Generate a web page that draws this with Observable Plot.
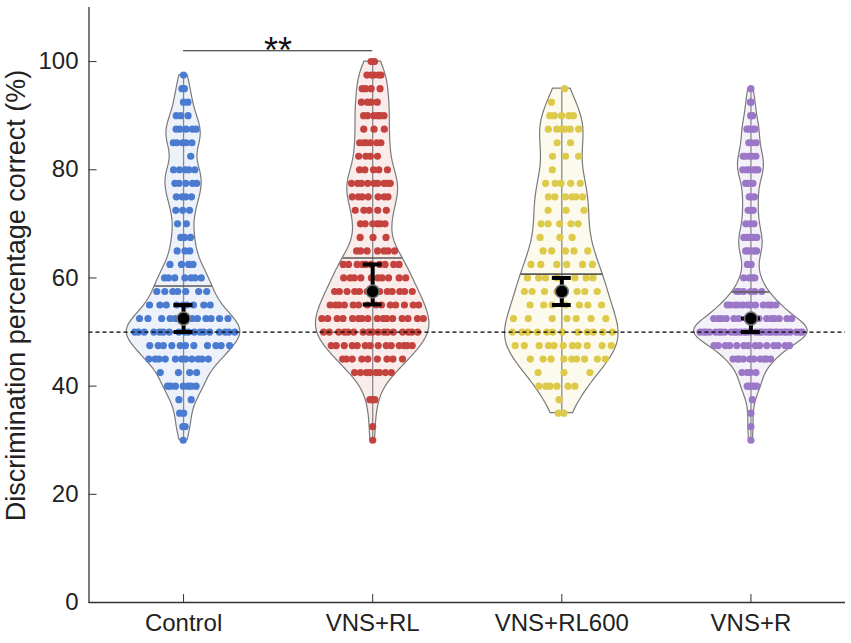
<!DOCTYPE html>
<html><head><meta charset="utf-8">
<script src="https://cdn.jsdelivr.net/npm/d3@7"></script>
<script src="https://cdn.jsdelivr.net/npm/@observablehq/plot@0.6"></script>
<style>html,body{margin:0;padding:0;background:#fff}svg{display:block}</style>
</head><body><div id="chart"></div>
<script>
// ---- data ----
const groups = ["Control", "VNS+RL", "VNS+RL600", "VNS+R"];
const levels = [30, 32.5, 35, 37.5, 40, 42.5, 45, 47.5, 50, 52.5, 55, 57.5, 60, 62.5, 65, 67.5, 70, 72.5, 75, 77.5, 80, 82.5, 85, 87.5, 90, 92.5, 95, 97.5, 100];
// number of points at each level (per group); overlapping dots estimated
const countsControl   = [1, 2, 2, 2, 7, 4, 11, 11, 18, 12, 9, 7, 7, 4, 3, 3, 2, 3, 4, 5, 5, 1, 5, 5, 3, 2, 2, 1, 0];
const countsVnsRl     = [1, 1, 0, 3, 0, 8, 9, 14, 17, 16, 14, 13, 10, 10, 7, 3, 6, 5, 7, 9, 5, 4, 6, 3, 6, 4, 4, 5, 2];
const countsVnsRl600  = [0, 0, 2, 1, 6, 3, 9, 11, 12, 7, 7, 8, 7, 6, 5, 3, 5, 3, 6, 5, 1, 3, 2, 6, 5, 1, 1, 0, 0];
const countsVnsR      = [1, 1, 1, 1, 5, 4, 10, 14, 30, 16, 12, 6, 4, 2, 5, 5, 3, 3, 3, 3, 6, 5, 3, 4, 2, 2, 1, 0, 0];
const meanLine  = [58.5, 63.7, 60.7, 57.4];
const medians   = [52.5, 57.5, 57.5, 52.5];
const errLow    = [50.0, 55.1, 55.0, 50.0];
const errHigh   = [55.0, 62.5, 60.0, 52.5];
const bandwidth = [2.5, 3.0, 4.5, 2.1];
const colors    = ["#4a7bd0", "#c4433e", "#ddc94a", "#9a77c7"];
const yTicks    = [0, 20, 40, 60, 80, 100];
const chanceLevel = 50;
const sigFrom = 1, sigTo = 2, sigLevel = 102, sigLabel = "**";
const yLabel = "Discrimination percentage correct (%)";

// ---- derived ----
const allCounts = [countsControl, countsVnsRl, countsVnsRl600, countsVnsR];
const halfMax = 0.3;           // violin half-width in x units
const dotR = 3.6;
const dotPad = 0.02;
const phi = 0.6180339887;

const violins = [], points = [], summary = [];
allCounts.forEach((counts, gi) => {
  const pos = gi + 1;
  const vals = [];
  counts.forEach((c, li) => { for (let k = 0; k < c; k++) vals.push(levels[li]); });
  const bw = bandwidth[gi];
  const dens = y => d3.sum(vals, v => Math.exp(-0.5 * ((y - v) / bw) ** 2));
  const lo = d3.min(vals), hi = d3.max(vals);
  const grid = d3.range(0, 161).map(i => lo + (hi - lo) * i / 160);
  const dmax = d3.max(grid, dens);
  const half = y => halfMax * dens(y) / dmax;
  grid.forEach(y => violins.push({gi, y, x1: pos - half(y), x2: pos + half(y)}));
  counts.forEach((c, li) => {
    const v = levels[li];
    const w = Math.max(0, half(v) - dotPad);
    const seed = (li * 0.7548776662 + gi * 0.5698402910) % 1;
    for (let k = 0; k < c; k++) {
      const u = ((seed + k * phi) % 1) * 2 - 1;
      points.push({gi, y: v, x: pos + u * w});
    }
  });
  summary.push({gi, pos, lo, hi, mean: meanLine[gi], mw: half(meanLine[gi]),
    med: medians[gi], el: errLow[gi], eh: errHigh[gi]});
});

const marks = [];
groups.forEach((g, gi) => {
  marks.push(Plot.areaX(violins.filter(d => d.gi === gi), {
    y: "y", x1: "x1", x2: "x2", fill: colors[gi], fillOpacity: 0.1,
    stroke: "#7a7a7a", strokeWidth: 1.2, curve: "linear"
  }));
});
marks.push(Plot.ruleX(summary, {x: "pos", y1: "lo", y2: "hi", stroke: "#8a8a8a", strokeWidth: 1.3}));
groups.forEach((g, gi) => {
  marks.push(Plot.dot(points.filter(d => d.gi === gi), {x: "x", y: "y", r: dotR, fill: colors[gi], stroke: "none"}));
});
marks.push(Plot.ruleY(summary, {y: "mean", x1: d => d.pos - d.mw, x2: d => d.pos + d.mw, stroke: "#5a5a5a", strokeWidth: 1.6}));
marks.push(Plot.ruleY([chanceLevel], {x1: 0.5, x2: 4.5, stroke: "#000", strokeWidth: 1.3, strokeDasharray: "4,3"}));
// error bars with median
const cap = 0.05;
marks.push(Plot.ruleX(summary, {x: "pos", y1: "el", y2: "eh", stroke: "#000", strokeWidth: 4}));
marks.push(Plot.ruleY(summary, {y: "el", x1: d => d.pos - cap, x2: d => d.pos + cap, stroke: "#000", strokeWidth: 4}));
marks.push(Plot.ruleY(summary, {y: "eh", x1: d => d.pos - cap, x2: d => d.pos + cap, stroke: "#000", strokeWidth: 4}));
marks.push(Plot.dot(summary, {x: "pos", y: "med", r: 6.5, fill: "#000", stroke: "#777", strokeWidth: 1.5}));
// significance
marks.push(Plot.ruleY([sigLevel], {x1: sigFrom, x2: sigTo, stroke: "#222", strokeWidth: 1.2}));
marks.push(Plot.text([sigLabel], {x: (sigFrom + sigTo) / 2, y: sigLevel, text: d => d, lineAnchor: "bottom", dy: 12, fontSize: 36, fill: "#111"}));
// axes frame
marks.push(Plot.ruleX([0.5], {y1: 0, y2: 110, stroke: "#333", strokeWidth: 1.3}));
marks.push(Plot.ruleY([0], {x1: 0.5, x2: 4.5, stroke: "#333", strokeWidth: 1.3}));
marks.push(Plot.axisY(yTicks, {tickSize: -8, tickPadding: 18.5, stroke: "#333", fill: "#222", label: null, fontSize: 24}));
marks.push(Plot.axisX([1, 2, 3, 4], {tickSize: -8, tickPadding: 19, stroke: "#333", fill: "#222", label: null, fontSize: 24, tickFormat: i => groups[i - 1]}));
marks.push(Plot.text([yLabel], {frameAnchor: "left", textAnchor: "middle", rotate: -90, dx: -72.5, dy: -9.5, fontSize: 27, fill: "#222", text: d => d}));

const chart = Plot.plot({
  width: 851, height: 643,
  marginLeft: 88.5, marginRight: 6, marginTop: 7, marginBottom: 41,
  x: {domain: [0.5, 4.5]},
  y: {domain: [0, 110]},
  style: {fontFamily: "'Liberation Sans', Arial, sans-serif", fontSize: "24px", background: "#fff", overflow: "visible"},
  marks
});
document.getElementById("chart").appendChild(chart);
</script>
</body></html>
